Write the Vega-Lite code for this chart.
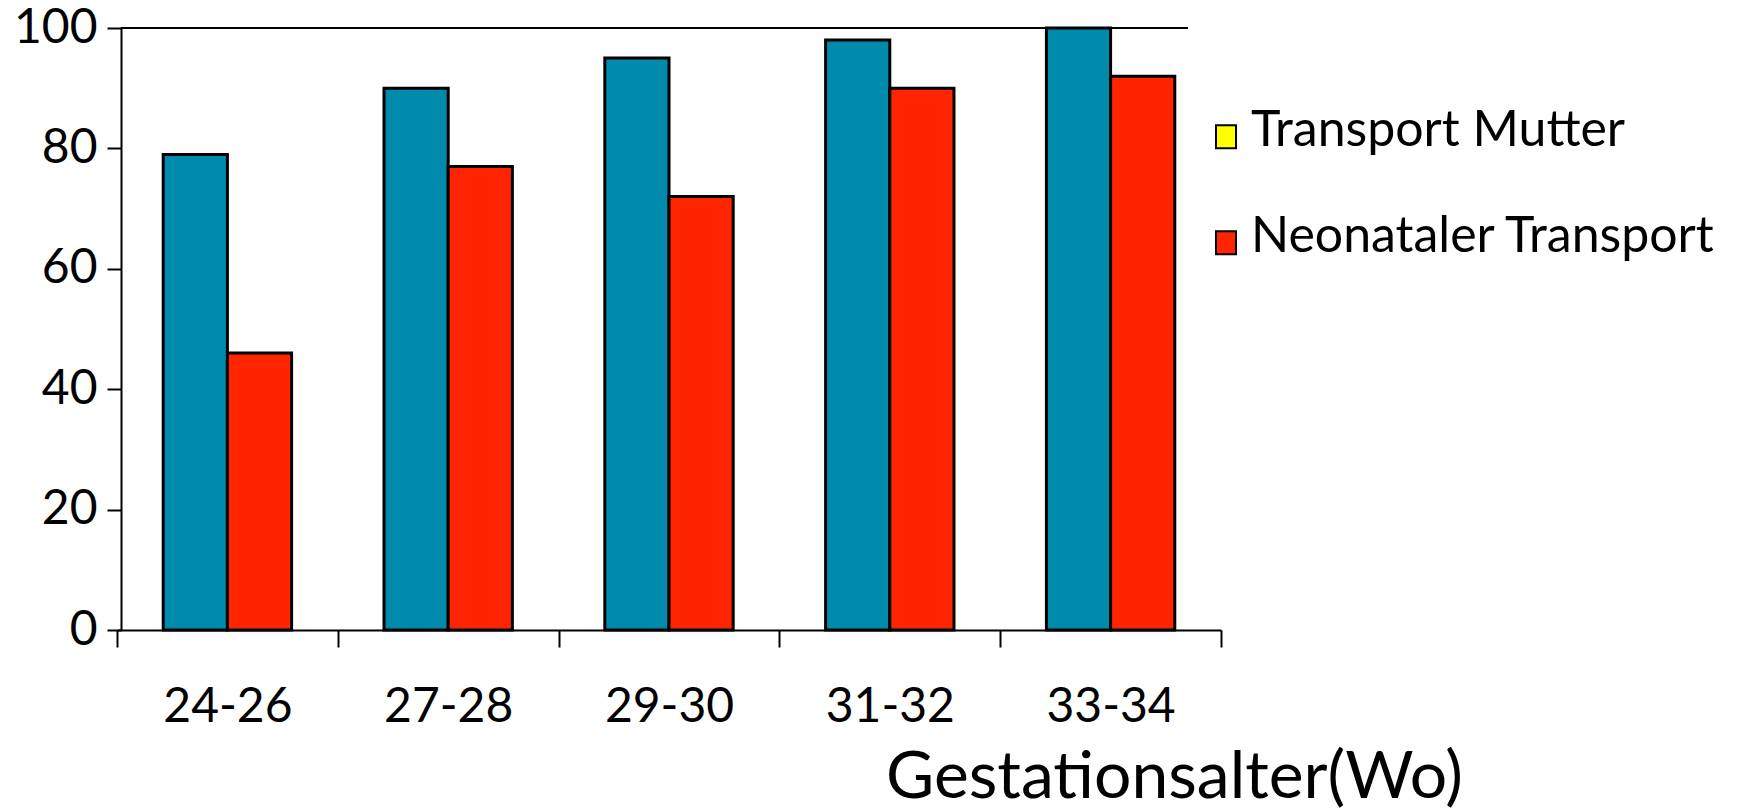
{
  "$schema": "https://vega.github.io/schema/vega-lite/v6.json",
  "width": 1104,
  "height": 602,
  "autosize": {"type": "none"},
  "padding": {"left": 117, "top": 28, "right": 539, "bottom": 181},
  "background": "white",
  "config": {
    "view": {"stroke": null},
    "font": "Lato",
    "axis": {"labelColor": "black", "domainColor": "black", "tickColor": "black", "domainWidth": 2, "tickWidth": 2, "grid": false, "labelFont": "Lato", "titleFont": "Lato"}
  },
  "datasets": {
    "bars": [
      {"group": "24-26", "series": "Transport Mutter", "value": 79},
      {"group": "24-26", "series": "Neonataler Transport", "value": 46},
      {"group": "27-28", "series": "Transport Mutter", "value": 90},
      {"group": "27-28", "series": "Neonataler Transport", "value": 77},
      {"group": "29-30", "series": "Transport Mutter", "value": 95},
      {"group": "29-30", "series": "Neonataler Transport", "value": 72},
      {"group": "31-32", "series": "Transport Mutter", "value": 98},
      {"group": "31-32", "series": "Neonataler Transport", "value": 90},
      {"group": "33-34", "series": "Transport Mutter", "value": 100},
      {"group": "33-34", "series": "Neonataler Transport", "value": 92}
    ],
    "legendEntries": [
      {"label": "Transport Mutter"},
      {"label": "Neonataler Transport"}
    ]
  },
  "data": {"name": "bars"},
  "resolve": {"scale": {"color": "independent"}, "legend": {"color": "independent"}},
  "layer": [
    {
      "mark": {"type": "bar", "stroke": "black", "strokeWidth": 3},
      "encoding": {
        "x": {
          "field": "group", "type": "nominal", "sort": null,
          "scale": {"paddingInner": 0, "paddingOuter": 0},
          "axis": {
            "title": "Gestationsalter(Wo)", "labelAngle": 0, "tickBand": "extent",
            "tickSize": 17, "labelFontSize": 48, "labelPadding": 36,
            "titleFontSize": 66, "titleFontWeight": "normal", "titleColor": "black",
            "titleAlign": "center", "titleBaseline": "alphabetic", "titleX": 1057, "titleY": 167
          }
        },
        "xOffset": {
          "field": "series", "type": "nominal", "sort": ["Transport Mutter", "Neonataler Transport"],
          "scale": {"paddingInner": 0, "paddingOuter": 0.72}
        },
        "y": {
          "field": "value", "type": "quantitative",
          "scale": {"domain": [0, 100], "nice": false},
          "axis": {"title": null, "values": [0, 20, 40, 60, 80, 100], "tickSize": 14, "labelFontSize": 48, "labelPadding": 10, "offset": -4}
        },
        "color": {
          "field": "series", "type": "nominal",
          "scale": {"domain": ["Transport Mutter", "Neonataler Transport"], "range": ["#008BAD", "#FF2500"]},
          "legend": null
        }
      }
    },
    {
      "data": {"name": "legendEntries"},
      "mark": {"type": "point", "filled": true, "opacity": 0},
      "encoding": {
        "color": {
          "field": "label", "type": "nominal",
          "scale": {"domain": ["Transport Mutter", "Neonataler Transport"], "range": ["#FFFF00", "#FF2500"]},
          "legend": {
            "title": null, "orient": "none", "legendX": 1084, "legendY": 78, "padding": 0,
            "symbolType": "M-0.87,-0.5H0.87V1.5H-0.87Z", "symbolSize": 529,
            "symbolStrokeColor": "black", "symbolStrokeWidth": 2, "symbolOpacity": 1,
            "labelFont": "Lato", "labelFontSize": 50, "labelColor": "black", "labelOffset": 0,
            "rowPadding": 56, "labelLimit": 0
          }
        }
      }
    },
    {
      "mark": {"type": "rule", "color": "black", "strokeWidth": 2},
      "encoding": {
        "y": {"datum": 100, "type": "quantitative"},
        "x": {"datum": "24-26", "type": "nominal", "bandPosition": 0.018},
        "x2": {"datum": "33-34", "bandPosition": 0.85}
      }
    }
  ]
}
